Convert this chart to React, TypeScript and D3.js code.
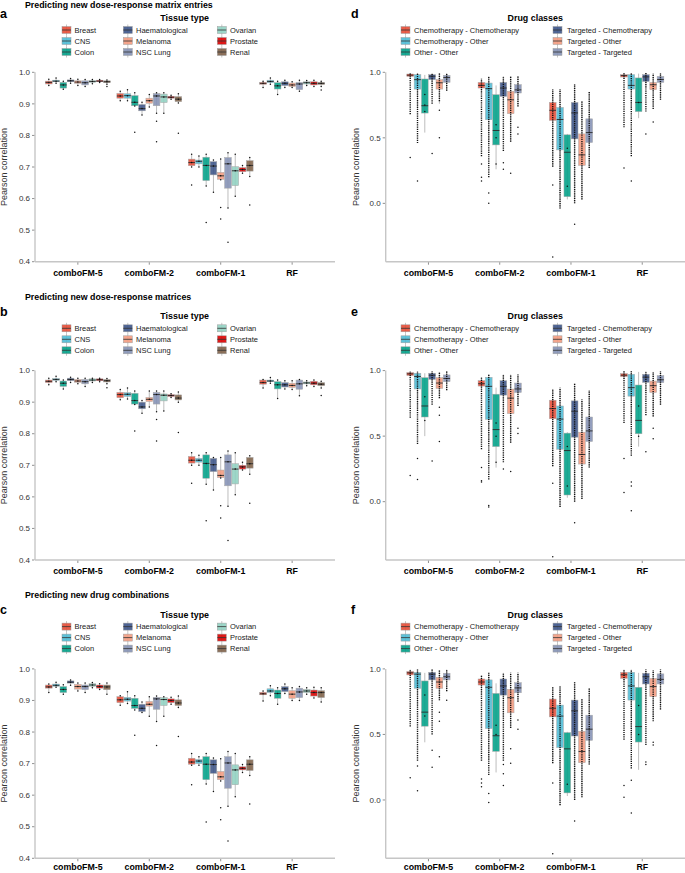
import * as d3 from "d3";
import { useEffect } from "react";

const FONT = '"Liberation Sans", Arial, Helvetica, sans-serif';

const methods = ["comboFM-5", "comboFM-2", "comboFM-1", "RF"];

const tissues = ["Breast", "CNS", "Colon", "Haematological", "Melanoma", "NSC Lung", "Ovarian", "Prostate", "Renal"];
const tissueColors = ["#E64B35", "#4DBBD5", "#00A087", "#3C5488", "#F39B7F", "#8491B4", "#91D1C2", "#DC0000", "#7E6148"];

const drugClasses = [
  "Chemotherapy - Chemotherapy",
  "Chemotherapy - Other",
  "Other - Other",
  "Targeted - Chemotherapy",
  "Targeted - Other",
  "Targeted - Targeted",
];
const drugColors = ["#E64B35", "#4DBBD5", "#00A087", "#3C5488", "#F39B7F", "#8491B4"];

const tissueTicks = [0.4, 0.5, 0.6, 0.7, 0.8, 0.9, 1.0];
const drugTicks = [0.0, 0.5, 1.0];

const panelTitles = [
  "Predicting new dose-response matrix entries",
  "Predicting new dose-response matrices",
  "Predicting new drug combinations",
];

// box stats per [method][category]: [lower whisker, q1, median, q3, upper whisker]
const boxesA = [
  [[0.958, 0.963, 0.968, 0.972, 0.978], [0.965, 0.97, 0.972, 0.975, 0.982], [0.946, 0.95, 0.96, 0.968, 0.972], [0.965, 0.97, 0.973, 0.976, 0.98], [0.958, 0.965, 0.969, 0.973, 0.978], [0.955, 0.96, 0.967, 0.973, 0.977], [0.964, 0.968, 0.971, 0.974, 0.977], [0.968, 0.97, 0.972, 0.975, 0.977], [0.962, 0.967, 0.97, 0.973, 0.976]],
  [[0.91, 0.918, 0.925, 0.933, 0.94], [0.91, 0.918, 0.926, 0.932, 0.945], [0.893, 0.894, 0.905, 0.926, 0.935], [0.865, 0.878, 0.885, 0.898, 0.905], [0.89, 0.902, 0.91, 0.918, 0.93], [0.87, 0.894, 0.925, 0.933, 0.935], [0.87, 0.904, 0.922, 0.931, 0.935], [0.915, 0.918, 0.921, 0.924, 0.927], [0.903, 0.907, 0.915, 0.923, 0.932]],
  [[0.7, 0.704, 0.714, 0.725, 0.74], [0.7, 0.71, 0.718, 0.722, 0.735], [0.64, 0.657, 0.705, 0.731, 0.74], [0.62, 0.675, 0.703, 0.717, 0.722], [0.66, 0.661, 0.672, 0.683, 0.725], [0.57, 0.633, 0.71, 0.73, 0.745], [0.607, 0.641, 0.688, 0.701, 0.74], [0.68, 0.685, 0.692, 0.698, 0.705], [0.67, 0.687, 0.705, 0.72, 0.73]],
  [[0.952, 0.962, 0.965, 0.968, 0.972], [0.962, 0.967, 0.971, 0.975, 0.982], [0.93, 0.947, 0.957, 0.967, 0.972], [0.952, 0.958, 0.965, 0.97, 0.975], [0.952, 0.955, 0.96, 0.966, 0.97], [0.94, 0.945, 0.963, 0.968, 0.975], [0.958, 0.963, 0.967, 0.97, 0.974], [0.955, 0.96, 0.965, 0.97, 0.975], [0.955, 0.961, 0.965, 0.968, 0.972]],
];
const pointsA = [
  [[], [], [], [], [], [], [], [], [0.955]],
  [[], [], [0.81], [], [], [0.845, 0.78], [], [], [0.807]],
  [[0.643], [], [0.524], [], [0.572, 0.535], [0.462], [], [], [0.58]],
  [[], [], [], [], [], [], [], [], [0.944]],
];

const boxesB = [
  [[0.955, 0.962, 0.966, 0.97, 0.976], [0.965, 0.969, 0.972, 0.975, 0.982], [0.942, 0.95, 0.96, 0.967, 0.97], [0.962, 0.968, 0.972, 0.976, 0.979], [0.958, 0.963, 0.967, 0.972, 0.976], [0.95, 0.958, 0.965, 0.972, 0.976], [0.962, 0.967, 0.97, 0.974, 0.976], [0.965, 0.968, 0.971, 0.974, 0.976], [0.958, 0.964, 0.968, 0.972, 0.975]],
  [[0.908, 0.914, 0.924, 0.931, 0.94], [0.91, 0.918, 0.925, 0.93, 0.945], [0.893, 0.894, 0.905, 0.928, 0.935], [0.865, 0.879, 0.885, 0.9, 0.905], [0.885, 0.902, 0.909, 0.915, 0.935], [0.87, 0.894, 0.924, 0.931, 0.935], [0.872, 0.904, 0.922, 0.926, 0.935], [0.915, 0.918, 0.921, 0.924, 0.927], [0.9, 0.907, 0.913, 0.923, 0.932]],
  [[0.7, 0.707, 0.716, 0.728, 0.74], [0.7, 0.71, 0.716, 0.722, 0.732], [0.64, 0.659, 0.706, 0.733, 0.74], [0.622, 0.68, 0.702, 0.722, 0.725], [0.66, 0.661, 0.668, 0.685, 0.725], [0.57, 0.635, 0.711, 0.733, 0.745], [0.607, 0.641, 0.688, 0.705, 0.74], [0.685, 0.688, 0.695, 0.7, 0.71], [0.672, 0.691, 0.705, 0.725, 0.73]],
  [[0.945, 0.957, 0.962, 0.97, 0.972], [0.96, 0.965, 0.967, 0.97, 0.978], [0.912, 0.942, 0.955, 0.965, 0.97], [0.942, 0.948, 0.955, 0.962, 0.968], [0.94, 0.947, 0.953, 0.96, 0.968], [0.92, 0.941, 0.958, 0.97, 0.972], [0.952, 0.958, 0.961, 0.964, 0.968], [0.95, 0.955, 0.96, 0.966, 0.97], [0.945, 0.952, 0.957, 0.962, 0.966]],
];
const pointsB = [
  [[], [], [], [], [], [], [], [], [0.946]],
  [[], [], [0.809], [], [], [0.845, 0.777], [], [], [0.804]],
  [[0.643], [], [0.524], [], [0.572, 0.533], [0.462], [], [], [0.58]],
  [[], [], [], [], [], [], [], [], [0.921]],
];

const boxesC = [
  [[0.925, 0.939, 0.943, 0.949, 0.952], [0.942, 0.945, 0.948, 0.952, 0.958], [0.92, 0.925, 0.935, 0.944, 0.95], [0.948, 0.955, 0.958, 0.962, 0.965], [0.93, 0.936, 0.944, 0.951, 0.955], [0.925, 0.934, 0.944, 0.949, 0.955], [0.94, 0.945, 0.949, 0.953, 0.957], [0.935, 0.939, 0.944, 0.949, 0.953], [0.92, 0.934, 0.943, 0.949, 0.955]],
  [[0.885, 0.893, 0.902, 0.912, 0.915], [0.89, 0.898, 0.904, 0.91, 0.928], [0.87, 0.875, 0.884, 0.907, 0.915], [0.862, 0.865, 0.875, 0.888, 0.895], [0.85, 0.882, 0.888, 0.897, 0.912], [0.833, 0.872, 0.905, 0.91, 0.914], [0.85, 0.884, 0.903, 0.909, 0.912], [0.888, 0.893, 0.9, 0.905, 0.91], [0.878, 0.884, 0.892, 0.902, 0.914]],
  [[0.695, 0.698, 0.705, 0.717, 0.732], [0.695, 0.7, 0.708, 0.713, 0.722], [0.635, 0.649, 0.698, 0.722, 0.732], [0.612, 0.669, 0.697, 0.712, 0.718], [0.645, 0.649, 0.658, 0.675, 0.715], [0.565, 0.622, 0.702, 0.722, 0.738], [0.595, 0.633, 0.68, 0.696, 0.732], [0.672, 0.68, 0.685, 0.69, 0.697], [0.662, 0.678, 0.698, 0.712, 0.722]],
  [[0.898, 0.918, 0.921, 0.926, 0.93], [0.915, 0.925, 0.93, 0.937, 0.947], [0.888, 0.907, 0.922, 0.933, 0.94], [0.922, 0.928, 0.937, 0.944, 0.952], [0.9, 0.907, 0.92, 0.931, 0.94], [0.9, 0.909, 0.927, 0.939, 0.944], [0.92, 0.925, 0.93, 0.935, 0.94], [0.908, 0.914, 0.925, 0.933, 0.942], [0.895, 0.909, 0.925, 0.931, 0.94]],
];
const pointsC = [
  [[], [], [], [], [], [], [], [], []],
  [[], [], [0.79], [], [], [0.757], [], [], [0.786]],
  [[0.633], [], [0.515], [], [0.56, 0.522], [0.455], [], [], [0.572]],
  [[], [], [], [], [], [], [], [], []],
];

const boxesD = [
  [[0.955, 0.969, 0.978, 0.987, 0.995], [0.72, 0.872, 0.944, 0.982, 0.995], [0.54, 0.689, 0.745, 0.949, 0.98], [0.9, 0.944, 0.97, 0.982, 0.995], [0.76, 0.872, 0.92, 0.944, 0.995], [0.86, 0.923, 0.96, 0.977, 0.995]],
  [[0.84, 0.88, 0.9, 0.923, 0.95], [0.45, 0.638, 0.875, 0.918, 0.97], [0.26, 0.446, 0.556, 0.829, 0.9], [0.7, 0.816, 0.88, 0.923, 0.97], [0.47, 0.684, 0.79, 0.855, 0.97], [0.74, 0.842, 0.866, 0.906, 0.97]],
  [[0.28, 0.633, 0.71, 0.77, 0.87], [-0.04, 0.408, 0.64, 0.732, 0.87], [0.03, 0.051, 0.39, 0.523, 0.53], [0.0, 0.492, 0.69, 0.77, 0.91], [0.03, 0.29, 0.37, 0.53, 0.78], [0.27, 0.464, 0.54, 0.645, 0.85]],
  [[0.95, 0.964, 0.975, 0.982, 0.995], [0.72, 0.872, 0.9, 0.982, 0.995], [0.65, 0.7, 0.77, 0.957, 0.99], [0.88, 0.93, 0.965, 0.982, 0.995], [0.74, 0.867, 0.905, 0.923, 0.99], [0.79, 0.923, 0.945, 0.969, 0.995]],
];
// dense runs of points drawn as a dotted column: [low, high]
const stripsD = [
  [[0.68, 0.995], [0.46, 0.995], [], [0.76, 0.995], [0.78, 0.995], [0.86, 0.995]],
  [[0.36, 0.95], [0.2, 0.97], [], [0.4, 0.97], [0.47, 0.97], [0.74, 0.97]],
  [[0.28, 0.87], [-0.04, 0.87], [], [0.0, 0.91], [0.03, 0.78], [0.27, 0.85]],
  [[0.58, 0.995], [0.36, 0.995], [], [0.7, 0.995], [0.72, 0.99], [0.79, 0.995]],
];
const pointsD = [
  [[0.35], [0.17], [0.83, 0.75, 0.7], [0.38], [0.71, 0.5], []],
  [[0.3, 0.2, 0.17], [0.08, 0.0], [0.6, 0.5, 0.3], [0.31, 0.26], [0.23], [0.58, 0.53]],
  [[0.14, -0.41], [], [0.13, 0.42], [-0.16], [], []],
  [[0.27], [0.17], [0.77], [0.53], [0.62], []],
];

const boxesE = [
  [[0.95, 0.962, 0.975, 0.985, 0.995], [0.7, 0.86, 0.955, 0.98, 0.995], [0.5, 0.646, 0.73, 0.946, 0.98], [0.9, 0.933, 0.965, 0.98, 0.995], [0.79, 0.864, 0.905, 0.946, 0.99], [0.85, 0.915, 0.94, 0.967, 0.995]],
  [[0.84, 0.882, 0.9, 0.923, 0.95], [0.45, 0.628, 0.88, 0.949, 0.97], [0.26, 0.42, 0.55, 0.82, 0.87], [0.7, 0.813, 0.88, 0.923, 0.97], [0.45, 0.672, 0.79, 0.859, 0.97], [0.73, 0.833, 0.86, 0.905, 0.97]],
  [[0.27, 0.633, 0.71, 0.774, 0.86], [-0.04, 0.4, 0.63, 0.73, 0.87], [0.03, 0.051, 0.39, 0.523, 0.53], [0.0, 0.492, 0.69, 0.769, 0.9], [0.02, 0.287, 0.36, 0.53, 0.78], [0.26, 0.459, 0.54, 0.646, 0.85]],
  [[0.93, 0.954, 0.965, 0.977, 0.995], [0.6, 0.805, 0.87, 0.972, 0.995], [0.42, 0.518, 0.62, 0.89, 0.99], [0.83, 0.91, 0.95, 0.972, 0.995], [0.65, 0.833, 0.885, 0.92, 0.99], [0.74, 0.908, 0.93, 0.962, 0.995]],
];
const stripsE = [
  [[0.64, 0.995], [0.44, 0.995], [], [0.74, 0.995], [0.79, 0.99], [0.85, 0.995]],
  [[0.4, 0.95], [0.17, 0.97], [], [0.3, 0.97], [0.45, 0.97], [0.73, 0.97]],
  [[0.27, 0.86], [-0.04, 0.87], [], [0.0, 0.9], [0.02, 0.78], [0.26, 0.85]],
  [[0.6, 0.995], [0.35, 0.995], [], [0.66, 0.995], [0.65, 0.99], [0.74, 0.995]],
];
const pointsE = [
  [[0.2], [0.33, 0.17], [0.8, 0.62], [0.31], [0.72, 0.66, 0.46], []],
  [[0.26, 0.16, 0.15], [-0.03, -0.04], [0.6, 0.5, 0.3], [0.25], [0.23], [0.56, 0.52]],
  [[0.14, -0.42], [], [0.12, 0.42], [-0.16], [], []],
  [[0.33, 0.07], [0.15, 0.12, -0.07], [0.73, 0.5], [0.38], [0.56, 0.48], []],
];

const boxesF = [
  [[0.94, 0.954, 0.97, 0.98, 0.995], [0.7, 0.852, 0.96, 0.974, 0.995], [0.44, 0.563, 0.67, 0.908, 0.97], [0.86, 0.916, 0.96, 0.974, 0.995], [0.76, 0.852, 0.9, 0.936, 0.99], [0.83, 0.916, 0.94, 0.967, 0.995]],
  [[0.8, 0.877, 0.9, 0.923, 0.95], [0.3, 0.545, 0.86, 0.916, 0.97], [0.21, 0.371, 0.49, 0.813, 0.89], [0.62, 0.8, 0.87, 0.923, 0.97], [0.55, 0.665, 0.78, 0.844, 0.97], [0.75, 0.818, 0.855, 0.895, 0.97]],
  [[0.28, 0.634, 0.7, 0.77, 0.86], [-0.04, 0.4, 0.64, 0.724, 0.87], [0.03, 0.054, 0.39, 0.514, 0.52], [0.0, 0.488, 0.68, 0.762, 0.9], [0.02, 0.284, 0.37, 0.524, 0.77], [0.27, 0.455, 0.54, 0.647, 0.85]],
  [[0.9, 0.928, 0.955, 0.974, 0.995], [0.5, 0.762, 0.87, 0.974, 0.995], [0.23, 0.442, 0.56, 0.86, 0.97], [0.73, 0.885, 0.94, 0.967, 0.995], [0.62, 0.788, 0.865, 0.928, 0.99], [0.69, 0.885, 0.92, 0.962, 0.995]],
];
const stripsF = [
  [[0.56, 0.995], [0.3, 0.995], [], [0.5, 0.995], [0.76, 0.99], [0.83, 0.995]],
  [[0.3, 0.95], [0.19, 0.97], [], [0.3, 0.97], [0.55, 0.97], [0.75, 0.97]],
  [[0.28, 0.86], [-0.04, 0.87], [], [0.0, 0.9], [0.02, 0.77], [0.27, 0.85]],
  [[0.46, 0.995], [0.24, 0.995], [], [0.42, 0.995], [0.6, 0.99], [0.69, 0.995]],
];
const pointsF = [
  [[0.17], [0.26, 0.07], [0.8, 0.64], [0.38, 0.25], [0.67, 0.6, 0.33], [0.76]],
  [[0.16, 0.13, 0.1], [0.05, -0.02], [0.57, 0.5], [0.27, 0.2, 0.11], [0.39, 0.28], [0.61, 0.54]],
  [[0.13, -0.41], [], [0.12], [-0.16], [], []],
  [[0.11, 0.02], [0.15, -0.1], [0.72, 0.5], [0.29, 0.27], [0.44, 0.42], []],
];

const TOP0 = 72.3;
const ROW_STEP = 298.3;
const PLOT_H = 189.4;
const BOX_SLOT = 7.2;

function Swatch({ x, y, color }: { x: number; y: number; color: string }) {
  return (
    <g>
      <line x1={x + 4.5} x2={x + 4.5} y1={y - 5.5} y2={y + 5.5} stroke="#b5b5b5" strokeWidth={0.8} />
      <rect x={x} y={y - 3.5} width={9} height={7} fill={color} fillOpacity={0.9} stroke="#a0a0a0" strokeWidth={0.5} />
      <line x1={x} x2={x + 9} y1={y} y2={y} stroke="#333" strokeWidth={0.8} />
    </g>
  );
}

function Box({
  cx,
  w,
  y,
  s,
  color,
  pts,
  strip,
}: {
  cx: number;
  w: number;
  y: d3.ScaleLinear<number, number>;
  s: number[];
  color: string;
  pts: number[];
  strip?: number[];
}) {
  const [lo, q1, med, q3, hi] = s;
  const mid = cx + w / 2;
  const dots = strip ? pts : [lo, med, hi, ...pts];
  return (
    <g>
      <line x1={mid} x2={mid} y1={y(lo)} y2={y(hi)} stroke="#b5b5b5" strokeWidth={0.9} />
      <rect x={cx} y={y(q3)} width={w} height={Math.max(0.8, y(q1) - y(q3))} fill={color} fillOpacity={0.88} stroke="#a8a8a8" strokeWidth={0.5} />
      <line x1={cx} x2={cx + w} y1={y(med)} y2={y(med)} stroke="#2a2a2a" strokeWidth={0.9} />
      {strip && strip.length === 2 && (
        <line x1={mid} x2={mid} y1={y(strip[0])} y2={y(strip[1])} stroke="#111" strokeWidth={1.4} strokeDasharray="1.2 1" />
      )}
      {dots.map((p, i) => (
        <circle key={i} cx={mid} cy={y(p)} r={0.75} fill="#111" />
      ))}
    </g>
  );
}

function Panel({
  row,
  side,
  letter,
  boxes,
  points,
  strips,
}: {
  row: number;
  side: "left" | "right";
  letter: string;
  boxes: number[][][];
  points: number[][][];
  strips?: number[][][];
}) {
  const top = TOP0 + row * ROW_STEP;
  const bottom = top + PLOT_H;
  const left = side === "left";
  const ax0 = left ? 35 : 385.7;
  const ax1 = left ? 335 : 685;
  const cats = left ? tissues : drugClasses;
  const colors = left ? tissueColors : drugColors;
  const ticks = left ? tissueTicks : drugTicks;

  const x = d3.scalePoint<string>().domain(methods).range([ax0, ax1]).padding(0.6);
  const half = (cats.length * BOX_SLOT) / 2;
  const inner = d3.scaleBand<string>().domain(cats).range([-half, half]).paddingInner(0.08);
  const y = d3
    .scaleLinear()
    .domain(left ? [0.4, 1.0] : [-0.445, 1.0])
    .range([bottom, top]);

  const titleY = Math.max(7.5, top - 70.5);
  const legendRows = [top - 42.3, top - 31.3, top - 20.3];
  const swatchX = left ? [62, 123.3, 217.3] : [401, 553];
  const textX = left ? [74.5, 136, 230] : [414, 567];
  const labelY = Math.min(bottom + 14.3, 869.5);

  return (
    <g fontFamily={FONT}>
      {left && (
        <text x={25} y={titleY} fontSize={8.8} fontWeight="bold" fill="#000">
          {panelTitles[row]}
        </text>
      )}
      <text x={left ? 0 : 351} y={top - 54.5} fontSize={12.5} fontWeight="bold" fill="#000">
        {letter}
      </text>
      <text x={left ? 184.7 : 535.2} y={top - 51.3} fontSize={8.9} fontWeight="bold" textAnchor="middle" fill="#000">
        {left ? "Tissue type" : "Drug classes"}
      </text>
      {cats.map((c, i) => {
        const col = Math.floor(i / 3);
        const ry = legendRows[i % 3];
        return (
          <g key={c}>
            <Swatch x={swatchX[col]} y={ry} color={colors[i]} />
            <text x={textX[col]} y={ry + 2.7} fontSize={7.5} fill="#1a1a1a">
              {c}
            </text>
          </g>
        );
      })}

      {/* axes */}
      <line x1={ax0} x2={ax0} y1={top} y2={bottom} stroke="#c6c6c6" strokeWidth={1.4} />
      <line x1={ax0} x2={ax1} y1={bottom} y2={bottom} stroke="#c6c6c6" strokeWidth={1.4} />
      {ticks.map((t) => (
        <g key={t}>
          <line x1={ax0 - 3} x2={ax0 - 0.7} y1={y(t)} y2={y(t)} stroke="#444" strokeWidth={0.6} />
          <text x={ax0 - 5} y={y(t)} dy="0.34em" fontSize={8} textAnchor="end" fill="#333">
            {d3.format(".1f")(t)}
          </text>
        </g>
      ))}
      {methods.map((m) => (
        <g key={m}>
          <line x1={x(m)} x2={x(m)} y1={bottom + 0.7} y2={bottom + 3} stroke="#444" strokeWidth={0.6} />
          <text x={x(m)} y={labelY} fontSize={8.8} fontWeight="bold" textAnchor="middle" fill="#000">
            {m}
          </text>
        </g>
      ))}
      <text
        transform={`translate(${left ? 7.2 : 358.5},${(top + bottom) / 2}) rotate(-90)`}
        fontSize={9}
        textAnchor="middle"
        fill="#333"
      >
        Pearson correlation
      </text>

      {/* boxes */}
      {methods.map((m, mi) => (
        <g key={m}>
          {cats.map((c, ci) => (
            <Box
              key={c}
              cx={(x(m) as number) + (inner(c) as number)}
              w={inner.bandwidth()}
              y={y}
              s={boxes[mi][ci]}
              color={colors[ci]}
              pts={points[mi][ci]}
              strip={strips ? strips[mi][ci] : undefined}
            />
          ))}
        </g>
      ))}
    </g>
  );
}

export default function App() {
  useEffect(() => {
    document.body.style.margin = "0";
  }, []);
  return (
    <svg width={685} height={873} style={{ position: "absolute", left: 0, top: 0, background: "#fff" }}>
      <rect width={685} height={873} fill="#fff" />
      <Panel row={0} side="left" letter="a" boxes={boxesA} points={pointsA} />
      <Panel row={1} side="left" letter="b" boxes={boxesB} points={pointsB} />
      <Panel row={2} side="left" letter="c" boxes={boxesC} points={pointsC} />
      <Panel row={0} side="right" letter="d" boxes={boxesD} points={pointsD} strips={stripsD} />
      <Panel row={1} side="right" letter="e" boxes={boxesE} points={pointsE} strips={stripsE} />
      <Panel row={2} side="right" letter="f" boxes={boxesF} points={pointsF} strips={stripsF} />
    </svg>
  );
}
